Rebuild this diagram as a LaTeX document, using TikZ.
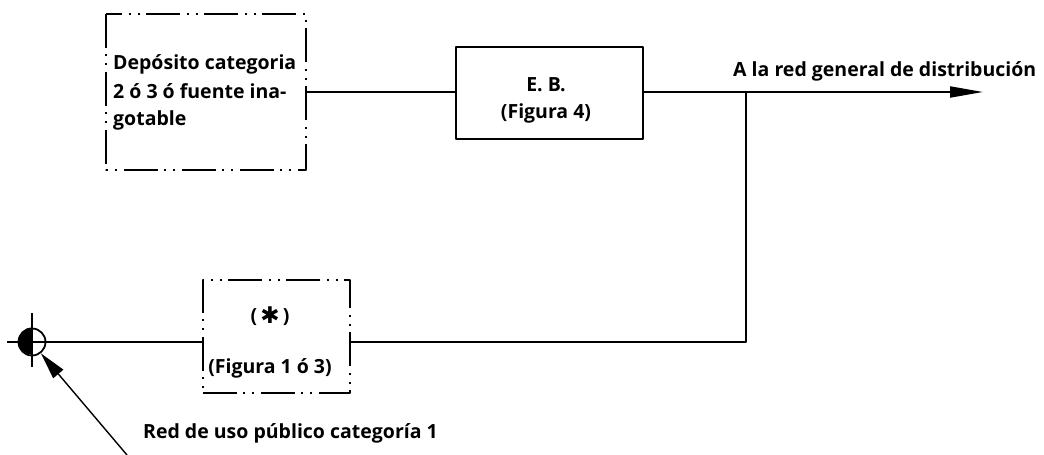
\documentclass[tikz,border=0pt]{standalone}
\usepackage{fontspec}
\setmainfont{Open Sans}
\newfontfamily\symfont{DejaVu Sans}
\usetikzlibrary{arrows.meta}
\tikzset{
  x=1pt, y=-1pt,
  line/.style={line width=2pt, line join=round},
  dashbox/.style={line, dash pattern=on 34pt off 6pt on 2pt off 7pt on 2pt off 7pt},
  solidbox/.style={line},
  lbl/.style={font=\fontsize{19.5}{27}\selectfont\bfseries, inner sep=0pt},
  mainarrow/.style={line, -{Triangle[length=33pt,width=11pt]}},
  ptrarrow/.style={line width=1.4pt, -{Triangle[length=27pt,width=13pt]}},
}
\begin{document}
\begin{tikzpicture}
\useasboundingbox (0,0) rectangle (1044,455);
% boxes
\draw[dashbox] (106,14) rectangle (306,170);
\node[lbl, anchor=base west] (dep1) at (113,69.5) {Depósito categoria};
\node[lbl, anchor=base west] (dep2) at (113,98.5) {2 ó 3 ó fuente ina-};
\node[lbl, anchor=base west] (dep3) at (113,125) {gotable};
\node[draw, solidbox, minimum width=187pt, minimum height=92pt, inner sep=0pt] (eb) at (549.5,93) {};
\node[lbl, anchor=base] (ebt1) at (546,91.5) {E. B.};
\node[lbl, anchor=base] (ebt2) at (546,118) {(Figura 4)};
\node[draw, dashbox, minimum width=147pt, minimum height=113pt, inner sep=0pt] (fb) at (276.5,336.5) {};
\node[lbl, anchor=base] (fbt1) at (270,322) {(\,{\symfont\fontsize{23}{23}\selectfont\bfseries\raisebox{-1pt}{✱}}\,)};
\node[lbl, anchor=base] (fbt2) at (270,373) {(Figura 1 ó 3)};
% connections
\coordinate (depE) at (306,92);
\draw[line] (depE) -- (eb.west |- depE);
\coordinate (tip) at (983,92);
\draw[mainarrow] (eb.east |- depE) -- (tip);
\coordinate (corner) at (746,342);
\coordinate (junc) at (746,92);
\draw[line] (fb.east |- corner) -- (corner) -- (junc);
% supply point
\node[circle, draw, line width=1.8pt, minimum size=27pt, inner sep=0pt] (circ) at (32,342) {};
\fill (circ.north) arc[start angle=90, end angle=270, radius=13.5pt] -- cycle;
\coordinate (hl) at (7,342);
\coordinate (vt) at (32,313);
\coordinate (vb) at (32,367);
\draw[line] (hl) -- (fb.west |- hl);
\draw[line width=1.2pt] (vt) -- (vb);
\coordinate (ptr) at (127,455);
\draw[ptrarrow] (ptr) -- (circ.-52);
% labels
\node[lbl, anchor=base west] (outlbl) at (733,76.5) {A la red general de distribución};
\node[lbl, anchor=base west] (inlbl) at (143,438) {Red de uso público categoría 1};
\end{tikzpicture}
\end{document}
